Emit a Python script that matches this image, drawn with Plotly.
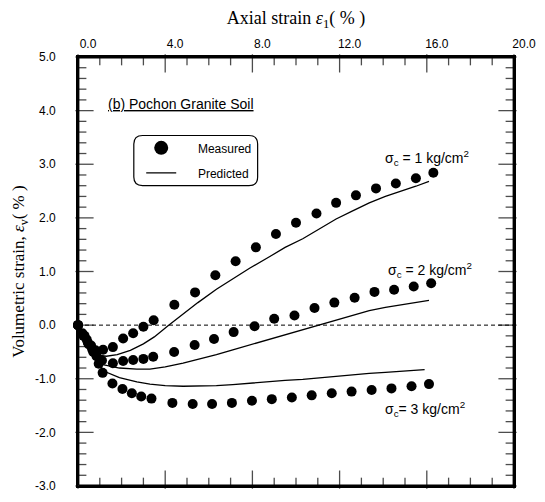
import plotly.graph_objects as go

# Measured data (axial strain %, volumetric strain %)
m1_x = [0, 0.2, 0.4, 0.6, 0.8, 1.15, 1.6, 2.07, 2.53, 3.0, 3.47, 4.42, 5.37, 6.3, 7.23, 8.16, 9.08, 10.0, 10.94, 11.84, 12.75, 13.67, 14.58, 15.5, 16.3]
m1_y = [0, -0.15, -0.27, -0.38, -0.47, -0.46, -0.41, -0.25, -0.15, -0.03, 0.09, 0.38, 0.61, 0.93, 1.19, 1.45, 1.70, 1.91, 2.08, 2.28, 2.42, 2.55, 2.64, 2.74, 2.84]

m2_x = [0, 0.25, 0.45, 0.65, 0.85, 1.1, 1.6, 2.07, 2.53, 3.0, 3.45, 4.41, 5.35, 6.24, 7.14, 8.1, 9.0, 9.93, 10.85, 11.76, 12.69, 13.6, 14.5, 15.4, 16.2]
m2_y = [0, -0.2, -0.33, -0.45, -0.58, -0.66, -0.71, -0.67, -0.65, -0.63, -0.59, -0.50, -0.37, -0.26, -0.13, -0.02, 0.12, 0.18, 0.32, 0.42, 0.51, 0.62, 0.66, 0.72, 0.78]

m3_x = [0, 0.3, 0.5, 0.7, 0.95, 1.13, 1.58, 2.04, 2.47, 2.9, 3.37, 4.33, 5.26, 6.15, 7.06, 7.98, 8.89, 9.81, 10.72, 11.64, 12.55, 13.47, 14.38, 15.3, 16.1]
m3_y = [0, -0.2, -0.36, -0.5, -0.72, -0.89, -1.09, -1.19, -1.27, -1.33, -1.37, -1.45, -1.47, -1.47, -1.45, -1.41, -1.38, -1.35, -1.31, -1.27, -1.24, -1.21, -1.18, -1.14, -1.10]

# Predicted curves
p1_x = [0, 0.3, 0.6, 0.9, 1.3, 1.8, 2.4, 3.0, 3.5, 4.13, 4.82, 5.5, 6.35, 7.1, 7.87, 8.8, 9.5, 10.31, 11.1, 11.84, 12.6, 13.36, 14.1, 14.89, 15.5, 16.1]
p1_y = [0, -0.22, -0.42, -0.56, -0.58, -0.55, -0.47, -0.35, -0.22, -0.01, 0.21, 0.42, 0.67, 0.87, 1.06, 1.28, 1.45, 1.61, 1.80, 1.98, 2.13, 2.28, 2.40, 2.50, 2.59, 2.68]

p2_x = [0, 0.3, 0.6, 0.9, 1.2, 1.9, 2.7, 3.3, 4.0, 4.82, 5.6, 6.35, 7.1, 7.87, 8.8, 9.5, 10.31, 11.1, 11.84, 12.6, 13.36, 14.1, 14.89, 15.5, 16.1]
p2_y = [0, -0.25, -0.48, -0.65, -0.74, -0.80, -0.82, -0.82, -0.78, -0.71, -0.63, -0.55, -0.46, -0.37, -0.26, -0.18, -0.09, 0.01, 0.10, 0.19, 0.27, 0.33, 0.38, 0.42, 0.46]

p3_x = [0, 0.3, 0.6, 0.9, 1.2, 1.9, 2.7, 3.3, 4.0, 4.82, 5.6, 6.35, 7.1, 7.87, 8.8, 9.5, 10.31, 11.1, 11.84, 12.6, 13.36, 14.1, 14.89, 15.9]
p3_y = [0, -0.25, -0.48, -0.68, -0.86, -0.98, -1.06, -1.10, -1.13, -1.14, -1.14, -1.13, -1.11, -1.08, -1.05, -1.03, -1.01, -0.98, -0.95, -0.93, -0.90, -0.88, -0.86, -0.83]

# Axis ranges and tick labels
x_range = [0, 20]
y_range = [-3, 5]
x_tickvals = [0, 4, 8, 12, 16, 20]
x_ticktext = ["0.0", "4.0", "8.0", "12.0", "16.0", "20.0"]
y_tickvals = [5, 4, 3, 2, 1, 0, -1, -2, -3]
y_ticktext = ["5.0", "4.0", "3.0", "2.0", "1.0", "0.0", "-1.0", "-2.0", "-3.0"]
x_minor = list(range(0, 21))
y_minor = [round(-3 + 0.2 * i, 1) for i in range(41)]

# Labels
curve_labels = ["σ<sub>c</sub> = 1 kg/cm<sup>2</sup>", "σ<sub>c</sub> = 2 kg/cm<sup>2</sup>", "σ<sub>c</sub>= 3 kg/cm<sup>2</sup>"]
label_x = [14.0, 14.15, 14.0]
label_y = [3.12, 1.03, -1.57]

SANS = "Liberation Sans, Arial, sans-serif"
SERIF = "Liberation Serif, Times New Roman, serif"

W, H = 545, 502
ML, MR, MT, MB = 78, 30, 57, 9
plot_w, plot_h = W - ML - MR, H - MT - MB
ux = (x_range[1] - x_range[0]) / plot_w   # data units per pixel
uy = (y_range[1] - y_range[0]) / plot_h
MAJ, MIN = 13, 7

fig = go.Figure()

# inward ticks drawn as line-shaped markers, centred half a tick length inside the frame
def add_ticks(xs, ys, symbol, sizes):
    fig.add_trace(go.Scatter(x=xs, y=ys, mode="markers", showlegend=False, hoverinfo="skip",
                             cliponaxis=False,
                             marker=dict(symbol=symbol, size=sizes, color="black",
                                         line=dict(color="black", width=1.3))))

tx, ty, ts = [], [], []
for v in x_minor:
    L = MAJ if v in x_tickvals else MIN
    tx += [v, v]
    ty += [y_range[1] - L / 2 * uy, y_range[0] + L / 2 * uy]
    ts += [L, L]
add_ticks(tx, ty, "line-ns-open", ts)

tx, ty, ts = [], [], []
for v in y_minor:
    L = MAJ if v in y_tickvals else MIN
    tx += [x_range[0] + L / 2 * ux, x_range[1] - L / 2 * ux]
    ty += [v, v]
    ts += [L, L]
add_ticks(tx, ty, "line-ew-open", ts)

# frame, drawn as a closed line just inside the plotting area
ix, iy = 0.6 * ux, 0.6 * uy
fig.add_trace(go.Scatter(x=[x_range[0] + ix, x_range[1] - ix, x_range[1] - ix, x_range[0] + ix, x_range[0] + ix],
                         y=[y_range[0] + iy, y_range[0] + iy, y_range[1] - iy, y_range[1] - iy, y_range[0] + iy],
                         mode="lines", line=dict(color="black", width=1.6),
                         showlegend=False, hoverinfo="skip"))

measured = [(m1_x, m1_y), (m2_x, m2_y), (m3_x, m3_y)]
predicted = [(p1_x, p1_y), (p2_x, p2_y), (p3_x, p3_y)]

for i, (x, y) in enumerate(predicted):
    fig.add_trace(go.Scatter(x=x, y=y, mode="lines", line=dict(color="black", width=1.3),
                             name="     Predicted", showlegend=(i == 0), legendgroup="p", legendrank=2))
for i, (x, y) in enumerate(measured):
    fig.add_trace(go.Scatter(x=x, y=y, mode="markers", marker=dict(color="black", size=10),
                             name="     Measured", showlegend=False, legendgroup="m", cliponaxis=False))
# legend entry for the measured points (bigger symbol, as in the original key)
fig.add_trace(go.Scatter(x=[None], y=[None], mode="markers", marker=dict(color="black", size=14),
                         name="     Measured", showlegend=True, legendgroup="m", legendrank=1))

# zero reference line
fig.add_shape(type="line", xref="paper", x0=0, x1=1, yref="y", y0=0, y1=0,
              line=dict(color="black", width=1, dash="4px,3px"))

# rounded legend frame
r = 0.02
x0, x1, y0, y1 = 0.128, 0.412, 0.700, 0.817
path = (f"M {x0+r},{y0} L {x1-r},{y0} Q {x1},{y0} {x1},{y0+r} L {x1},{y1-r} Q {x1},{y1} {x1-r},{y1} "
        f"L {x0+r},{y1} Q {x0},{y1} {x0},{y1-r} L {x0},{y0+r} Q {x0},{y0} {x0+r},{y0} Z")
fig.add_shape(type="path", xref="paper", yref="paper", path=path, line=dict(color="black", width=1.2),
              fillcolor="rgba(0,0,0,0)")

for t, lx, ly in zip(curve_labels, label_x, label_y):
    fig.add_annotation(x=lx, y=ly, text=t, showarrow=False, xanchor="left", yanchor="middle",
                       font=dict(family=SANS, size=14, color="black"))

fig.add_annotation(x=1.28, y=4.12, text="<u>(b) Pochon Granite Soil</u>", showarrow=False,
                   xanchor="left", yanchor="middle", font=dict(family=SANS, size=14, color="black"))

axis_common = dict(showline=True, linecolor="black", linewidth=1.6, mirror=True, ticks="",
                   showgrid=False, zeroline=False,
                   tickfont=dict(family=SANS, size=12, color="black"))

fig.update_xaxes(range=x_range, tickmode="array", tickvals=x_tickvals, ticktext=x_ticktext, side="top",
                 ticklabelshift=10, ticklabelstandoff=2,
                 title=dict(text="Axial strain <i>ε</i><sub>1</sub>( % )", font=dict(family=SERIF, size=18, color="black"),
                            standoff=8),
                 **axis_common)
fig.update_yaxes(range=y_range, tickmode="array", tickvals=y_tickvals, ticktext=y_ticktext,
                 title=dict(text="Volumetric strain, <i>ε</i><sub>v</sub>( % )", font=dict(family=SERIF, size=17, color="black"),
                            standoff=6),
                 ticklabelstandoff=18, **axis_common)

fig.update_layout(
    width=W, height=H,
    margin=dict(l=ML, r=MR, t=MT, b=MB),
    plot_bgcolor="white", paper_bgcolor="white",
    legend=dict(x=0.145, y=0.822, xanchor="left", yanchor="top", bgcolor="rgba(0,0,0,0)",
                font=dict(family=SANS, size=12, color="black"), traceorder="grouped",
                tracegroupgap=6, borderwidth=0, itemsizing="trace"),
)

fig.write_html("out.html")
